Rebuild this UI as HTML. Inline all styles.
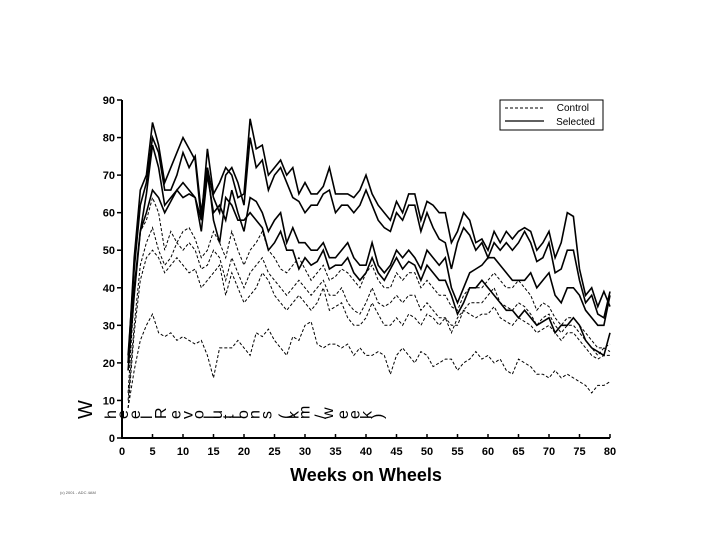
<!DOCTYPE html>
<html><head><meta charset="utf-8"><style>
body{margin:0;background:#fff;}
svg text{font-family:"Liberation Sans",Arial,sans-serif;}
</style></head><body>
<svg id="chart" width="720" height="540" viewBox="0 0 720 540" xmlns="http://www.w3.org/2000/svg">
<g id="plot"></g>
<g>
<rect x="500" y="100" width="103" height="30" fill="#fff" stroke="#000" stroke-width="1"/>
<line x1="505" y1="108" x2="544" y2="108" stroke="#000" stroke-dasharray="3,2"/>
<text x="589" y="111" font-size="10" text-anchor="end">Control</text>
<line x1="505" y1="121" x2="544" y2="121" stroke="#000" stroke-width="1.2"/>
<text x="595" y="125" font-size="10" text-anchor="end">Selected</text>
</g>
<text x="366" y="481" font-size="18" font-weight="bold" text-anchor="middle">Weeks on Wheels</text>
<text x="92" y="419" font-size="20" rotate="-90">W</text>
<text x="116" y="419" font-size="16" rotate="-90" textLength="272" lengthAdjust="spacing">heel Revolutions (km/week)</text>
<text x="60" y="494" font-size="4" fill="#555">(c) 2001 - ADC 4AM</text>
</svg>
<script>
const weeks=[];for(let i=1;i<=80;i++)weeks.push(i);
const xTicks=[0,5,10,15,20,25,30,35,40,45,50,55,60,65,70,75,80];
const yTicks=[0,10,20,30,40,50,60,70,80,90];
const selected1=[20,48,66,70,84,78,68,72,76,80,77,74,58,77,65,68,72,70,64,65,85,77,78,70,72,74,70,72,65,68,65,65,67,72,65,65,65,64,66,70,65,62,60,58,63,60,65,65,58,63,62,60,60,52,55,60,58,52,53,50,55,52,55,53,55,56,55,50,52,55,48,52,60,59,45,38,40,35,39,35];
const selected2=[22,45,62,68,80,76,66,66,70,76,72,75,60,72,64,60,70,72,68,62,80,72,74,66,70,72,68,64,63,60,62,62,65,66,60,62,62,60,62,66,62,58,56,55,60,58,62,62,55,60,56,53,52,45,52,56,54,50,52,48,52,50,52,50,52,55,52,47,48,52,44,45,50,50,42,36,38,33,32,39];
const selected3=[20,40,55,60,66,64,60,63,66,64,65,64,55,70,60,62,58,66,60,55,64,63,60,55,58,60,52,56,52,52,50,50,52,48,48,50,52,48,46,46,52,46,44,46,50,48,50,48,45,50,48,46,48,40,36,40,44,45,46,48,48,46,44,42,42,42,44,40,42,44,38,36,40,40,38,34,32,30,30,38];
const selected4=[18,38,55,65,78,72,62,64,66,68,66,64,58,72,58,52,64,62,58,58,60,58,56,50,52,55,50,50,45,48,46,47,50,45,46,46,48,44,42,44,48,44,42,45,48,45,47,46,42,46,44,42,42,38,33,36,40,40,42,40,38,36,34,34,32,34,32,30,31,32,28,30,30,32,30,26,24,23,22,28];
const control1=[12,38,55,58,64,60,50,55,52,55,56,53,48,50,55,52,48,55,50,46,50,52,55,50,48,45,44,46,48,45,42,44,46,42,43,45,44,42,40,44,46,42,40,40,44,42,44,44,40,42,40,38,38,35,34,38,40,40,40,42,44,42,40,40,42,40,38,34,36,35,32,30,32,32,30,28,26,24,24,23];
const control2=[10,30,46,52,56,50,46,48,52,50,52,50,45,46,50,48,42,48,44,40,44,46,48,44,42,40,38,40,42,40,38,40,42,38,38,40,36,34,33,36,40,36,35,36,38,36,38,38,34,36,34,32,32,30,30,34,36,36,36,38,40,36,35,34,36,35,33,30,32,33,30,28,30,30,28,26,24,22,24,25];
const control3=[8,28,42,48,50,48,44,46,48,46,44,45,40,42,44,46,38,44,40,36,38,40,44,42,38,36,34,36,38,36,34,36,40,34,35,36,32,30,30,32,36,33,30,30,32,30,33,32,30,33,32,30,32,28,32,34,33,32,33,33,35,32,31,30,32,31,30,28,29,30,28,26,28,28,26,24,22,21,22,22];
const control4=[8,18,26,30,33,28,27,28,26,27,26,25,26,22,16,24,24,24,26,24,22,28,27,29,26,24,22,27,26,30,31,25,24,25,25,24,25,22,24,22,22,23,22,17,22,24,22,20,23,22,19,20,21,21,18,20,21,23,21,22,20,21,18,17,21,20,19,17,17,16,18,16,17,16,15,14,12,14,14,15];

const NS="http://www.w3.org/2000/svg";
const X0=122,X1=610,Y0=438,Y1=100;
function xs(v){return X0+(v/80)*(X1-X0);}
function ys(v){return Y0-(v/90)*(Y0-Y1);}
const plot=document.getElementById('plot');
function mk(t,a){const e=document.createElementNS(NS,t);for(const k in a)e.setAttribute(k,a[k]);plot.appendChild(e);return e;}
function series(vals,dashed,name){
  let d='';vals.forEach((v,i)=>{d+=(i?'L':'M')+xs(weeks[i]).toFixed(1)+','+ys(v).toFixed(1);});
  const p=mk('path',{d:d,fill:'none',stroke:'#000','stroke-width':dashed?1:1.6,'stroke-dasharray':dashed?'3,2':'none','stroke-linejoin':'miter'});
  
  
}
series(control4,true,'control-line-4');
series(control3,true,'control-line-3');
series(control2,true,'control-line-2');
series(control1,true,'control-line-1');
series(selected4,false,'selected-line-4');
series(selected3,false,'selected-line-3');
series(selected2,false,'selected-line-2');
series(selected1,false,'selected-line-1');
const ax=mk('path',{d:`M${X0},${Y1}L${X0},${Y0}L${X1},${Y0}`,fill:'none',stroke:'#000','stroke-width':2});


yTicks.forEach(t=>{
  const l=mk('line',{x1:X0-5,x2:X0,y1:ys(t),y2:ys(t),stroke:'#000','stroke-width':1.5});
  
  
  const tx=mk('text',{x:X0-7,y:ys(t)+4,'font-size':11,'font-weight':'bold','text-anchor':'end'});
  tx.textContent=t;
  
  
});
xTicks.forEach(t=>{
  const l=mk('line',{x1:xs(t),x2:xs(t),y1:Y0,y2:Y0-4,stroke:'#000','stroke-width':1.5});
  
  
  const tx=mk('text',{x:xs(t),y:Y0+17,'font-size':11,'font-weight':'bold','text-anchor':'middle'});
  tx.textContent=t;
  
  
});
</script>
</body></html>
